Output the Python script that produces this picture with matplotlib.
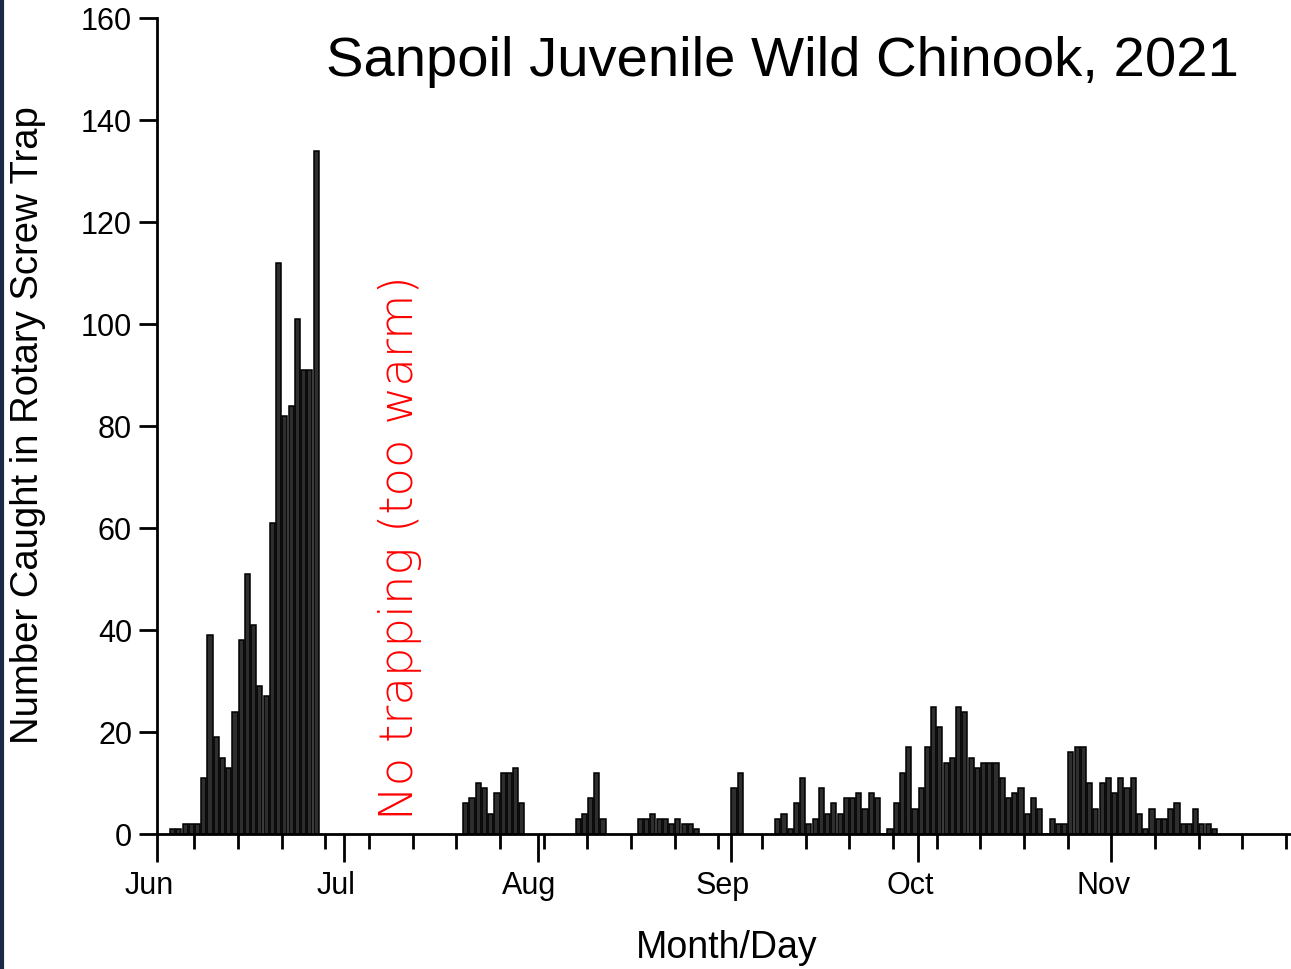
import pandas as pd
import numpy as np
import matplotlib
matplotlib.use("Agg")
import matplotlib.pyplot as plt
import matplotlib.dates as mdates
from matplotlib.transforms import ScaledTranslation

plt.rcParams['font.family'] = ['Liberation Sans', 'DejaVu Sans']

# daily catch, one list per trapping run (start date, counts)
jun_start = '2021-06-03'
jun_counts = [1, 1, 2, 2, 2, 11, 39, 19, 15, 13, 24, 38, 51, 41, 29, 27,
              61, 112, 82, 84, 101, 91, 91, 134]

jul_start = '2021-07-20'
jul_counts = [6, 7, 10, 9, 4, 8, 12, 12, 13, 6]

aug1_start = '2021-08-07'
aug1_counts = [3, 4, 7, 12, 3]

aug2_start = '2021-08-17'
aug2_counts = [3, 3, 4, 3, 3, 2, 3, 2, 2, 1]

sep1_start = '2021-09-01'
sep1_counts = [9, 12]

fall_start = '2021-09-08'
fall_counts = [3, 4, 1, 6, 11, 2, 3, 9, 4, 6, 4, 7, 7, 8, 5, 8, 7,   # Sep 8-24
               0, 1, 6, 12, 17, 5,                                   # Sep 25-30
               9, 17, 25, 21, 14, 15, 25, 24, 15, 13, 14, 14, 14, 11,
               7, 8, 9, 4, 7, 5,                                     # Oct 1-20
               0, 3, 2, 2, 16, 17, 17, 10, 5, 10, 11,                # Oct 21-31
               8, 11, 9, 11, 4, 1, 5, 3, 3, 5, 6, 2, 2, 5, 2, 2, 1]  # Nov 1-17

runs = [(jun_start, jun_counts), (jul_start, jul_counts),
        (aug1_start, aug1_counts), (aug2_start, aug2_counts),
        (sep1_start, sep1_counts), (fall_start, fall_counts)]

fig = plt.figure(figsize=(12.91, 9.70), dpi=100)
ax = fig.add_axes([157 / 1291, 135 / 970, 1139 / 1291, 816 / 970])

for start, counts in runs:
    days = pd.date_range(start, periods=len(counts), freq='D')
    x = mdates.date2num(days) + 0.5
    ax.bar(x, counts, width=0.82, color='#2e2e2e', edgecolor='black',
           linewidth=1.1, zorder=2)

ax.set_xlim(mdates.date2num(pd.Timestamp('2021-06-01')),
            mdates.date2num(pd.Timestamp('2021-11-30 14:00')))
ax.set_ylim(0, 160)
ax.set_yticks(np.arange(0, 161, 20))

ax.xaxis.set_major_locator(mdates.MonthLocator())
ax.xaxis.set_major_formatter(mdates.DateFormatter('%b'))
ax.xaxis.set_minor_locator(mdates.WeekdayLocator(byweekday=mdates.MO))

for s in ['top', 'right']:
    ax.spines[s].set_visible(False)
for s in ['left', 'bottom']:
    ax.spines[s].set_linewidth(2)

ax.tick_params(axis='x', which='major', length=20, width=2, direction='out',
               labelsize=22, pad=6)
ax.tick_params(axis='x', which='minor', length=11, width=2, direction='out')
ax.tick_params(axis='y', which='major', length=13, width=2, direction='out',
               labelsize=22, pad=5)

shift = ScaledTranslation(-8 / 100, 0, fig.dpi_scale_trans)
for lab in ax.get_xticklabels():
    lab.set_transform(lab.get_transform() + shift)

ax.set_ylabel('Number Caught in Rotary Screw Trap', fontsize=27.5)
ax.set_xlabel('Month/Day', fontsize=27)
ax.xaxis.set_label_coords((727 - 157) / 1139, -(930 - 835) / 816)
ax.yaxis.set_label_coords(-(157 - 46) / 1139, (835 - 425) / 816)

fig.text(782 / 1291, 1 - 62 / 970, 'Sanpoil Juvenile Wild Chinook, 2021',
         fontsize=40.5, ha='center', va='center')

ax.text(mdates.date2num(pd.Timestamp('2021-07-09')) + 0.9, 56.3,
        'No trapping (too warm)', color='red', fontsize=33.5, rotation=90,
        ha='center', va='center', family=['DejaVu Sans'], fontweight='light')

# thin dark border on the left edge of the screenshot
fig.add_artist(plt.Line2D([0.0015, 0.0015], [0, 1], color='#1a2a44',
                          linewidth=3, transform=fig.transFigure))

fig.savefig('out.png', dpi=100)
plt.close(fig)
